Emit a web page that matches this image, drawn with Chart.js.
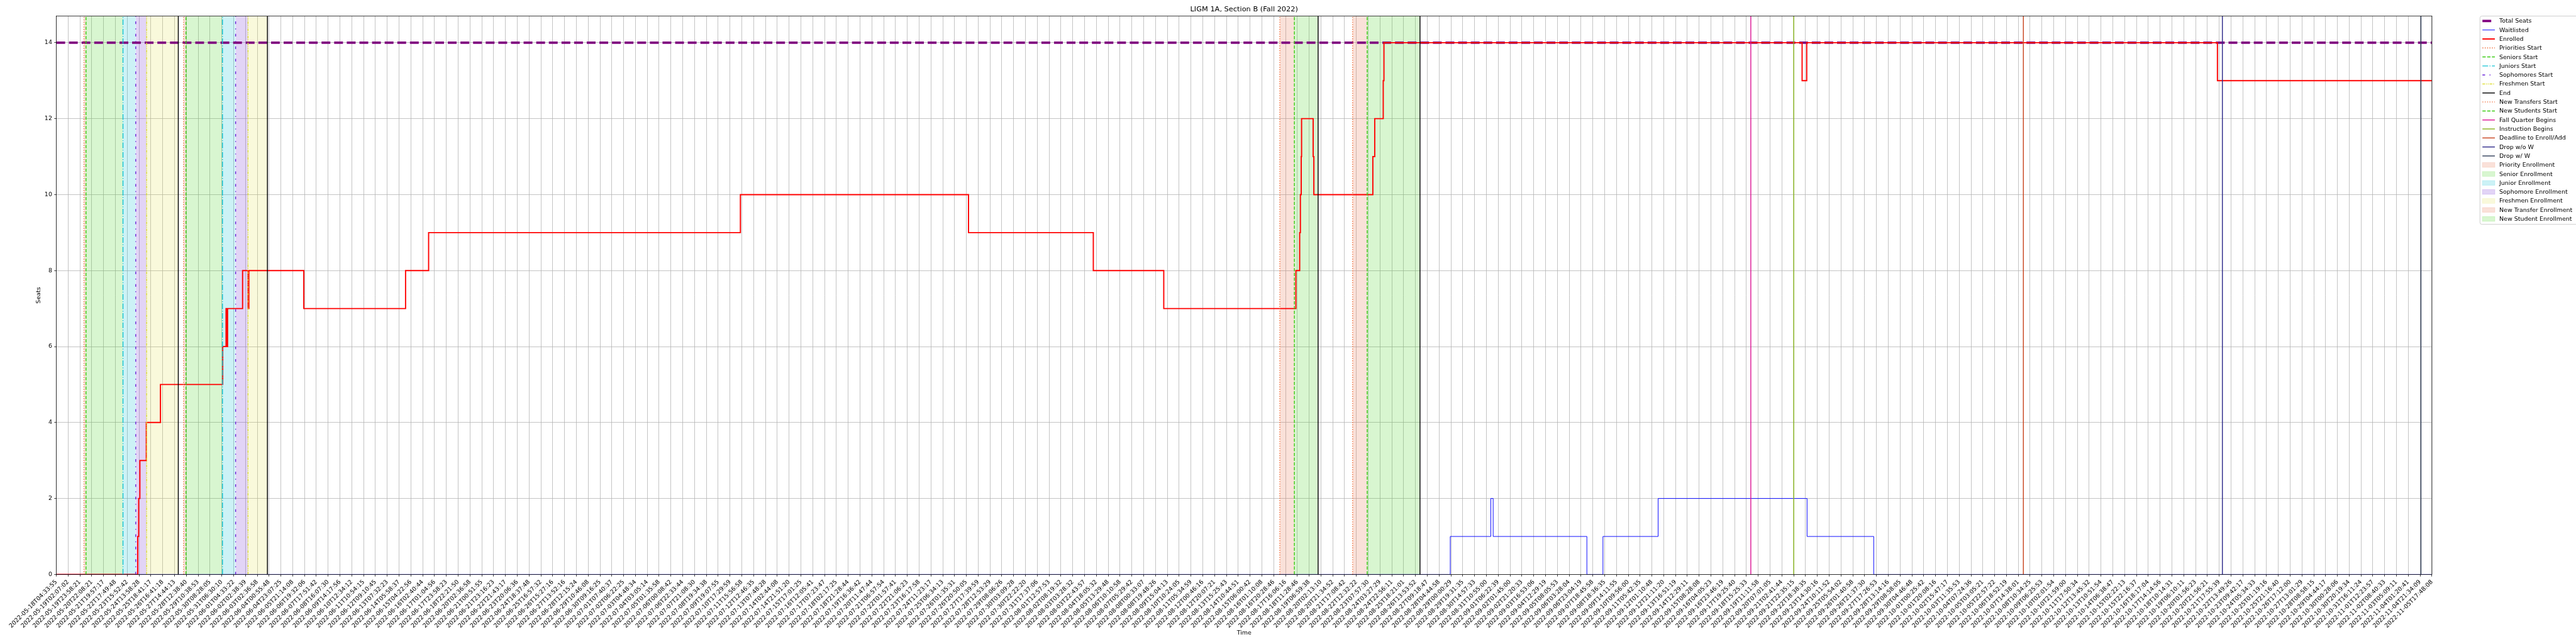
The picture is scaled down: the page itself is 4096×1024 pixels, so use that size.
<!DOCTYPE html>
<html><head><meta charset="utf-8">
<script src="https://cdn.jsdelivr.net/npm/chart.js@4.4.0/dist/chart.umd.min.js"></script>
<style>html,body{margin:0;padding:0;background:#fff;}canvas{display:block;}</style>
</head><body>
<canvas id="c" width="4096" height="1024"></canvas>
<script>
// ---------------- DATA ----------------
const chartTitle = 'LIGM 1A, Section B (Fall 2022)';
const tickLabels = [
'2022-05-18T04:33:55','2022-05-19T02:07:02','2022-05-19T23:58:21','2022-05-20T22:08:21','2022-05-21T19:57:17',
'2022-05-22T17:49:48','2022-05-23T15:52:42','2022-05-24T13:58:28','2022-05-25T18:41:17','2022-05-26T16:41:18',
'2022-05-27T14:44:13','2022-05-28T12:38:40','2022-05-29T10:38:53','2022-05-30T08:28:05','2022-05-31T06:30:10',
'2022-06-01T04:33:22','2022-06-02T02:38:39','2022-06-03T02:36:58','2022-06-04T00:55:48','2022-06-04T23:07:25',
'2022-06-05T21:14:08','2022-06-06T19:32:06','2022-06-07T17:51:42','2022-06-08T16:07:30','2022-06-09T14:17:56',
'2022-06-10T12:34:12','2022-06-11T10:54:15','2022-06-12T09:10:45','2022-06-13T07:32:23','2022-06-14T05:58:37',
'2022-06-15T04:22:56','2022-06-16T02:40:44','2022-06-17T01:04:56','2022-06-17T23:58:23','2022-06-18T22:21:50',
'2022-06-20T02:36:58','2022-06-21T00:51:55','2022-06-21T23:16:23','2022-06-22T21:43:17','2022-06-23T20:06:36',
'2022-06-24T18:37:48','2022-06-25T16:57:32','2022-06-26T15:27:16','2022-06-27T13:52:16','2022-06-28T12:15:24',
'2022-06-29T10:46:08','2022-06-30T09:16:25','2022-07-01T07:40:37','2022-07-02T06:22:25','2022-07-03T04:48:34',
'2022-07-04T03:05:14','2022-07-05T01:35:58','2022-07-06T00:08:42','2022-07-06T22:33:44','2022-07-07T21:08:30',
'2022-07-08T19:34:38','2022-07-09T19:07:55','2022-07-10T17:29:59','2022-07-11T15:56:58','2022-07-12T12:46:35',
'2022-07-13T07:48:28','2022-07-14T02:44:08','2022-07-14T21:51:20','2022-07-15T17:01:25','2022-07-16T12:05:41',
'2022-07-17T07:23:47','2022-07-18T02:17:25','2022-07-18T21:28:44','2022-07-19T16:36:42','2022-07-20T11:47:44',
'2022-07-21T06:57:54','2022-07-22T01:57:41','2022-07-22T21:06:23','2022-07-23T16:17:58','2022-07-24T11:23:17',
'2022-07-25T06:34:13','2022-07-26T01:35:31','2022-07-26T20:50:05','2022-07-27T17:39:59','2022-07-28T12:53:29',
'2022-07-29T08:06:26','2022-07-30T03:09:28','2022-07-30T22:22:20','2022-07-31T17:37:06','2022-08-01T12:57:53',
'2022-08-02T08:19:32','2022-08-03T03:28:32','2022-08-03T22:43:57','2022-08-04T18:05:32','2022-08-05T13:29:48',
'2022-08-06T10:10:58','2022-08-07T05:29:42','2022-08-08T00:33:07','2022-08-08T19:48:26','2022-08-09T15:04:13',
'2022-08-10T10:24:05','2022-08-11T05:34:59','2022-08-12T00:46:16','2022-08-12T20:07:21','2022-08-13T15:25:43',
'2022-08-14T10:44:51','2022-08-15T06:00:42','2022-08-16T01:10:08','2022-08-16T20:28:46','2022-08-17T16:06:16',
'2022-08-18T11:28:46','2022-08-19T06:59:38','2022-08-20T02:13:10','2022-08-20T21:34:52','2022-08-21T17:08:42',
'2022-08-22T12:32:22','2022-08-23T07:57:30','2022-08-24T03:27:29','2022-08-24T22:56:11','2022-08-25T18:21:01',
'2022-08-26T13:53:52','2022-08-27T09:18:47','2022-08-28T04:44:58','2022-08-29T00:00:29','2022-08-29T19:31:35',
'2022-08-30T14:57:33','2022-08-31T10:55:00','2022-09-01T06:22:39','2022-09-02T01:45:00','2022-09-02T21:20:33',
'2022-09-03T16:53:06','2022-09-04T12:29:19','2022-09-05T08:05:53','2022-09-06T03:28:04','2022-09-06T23:04:19',
'2022-09-07T18:45:58','2022-09-08T18:36:35','2022-09-09T14:11:55','2022-09-10T09:56:00','2022-09-11T05:42:35',
'2022-09-12T01:10:48','2022-09-12T21:11:20','2022-09-13T16:51:19','2022-09-14T12:29:11','2022-09-15T08:28:08',
'2022-09-16T04:05:23','2022-09-16T23:46:19','2022-09-17T19:25:40','2022-09-18T15:25:33','2022-09-19T11:11:58',
'2022-09-20T07:01:05','2022-09-21T02:41:44','2022-09-21T22:35:15','2022-09-22T18:38:35','2022-09-23T14:30:16',
'2022-09-24T10:11:52','2022-09-25T05:54:02','2022-09-26T01:40:58','2022-09-26T21:37:30','2022-09-27T17:26:53',
'2022-09-28T13:14:16','2022-09-29T08:58:05','2022-09-30T04:46:48','2022-10-01T00:25:42','2022-10-01T20:08:16',
'2022-10-02T15:47:17','2022-10-03T11:35:53','2022-10-04T07:24:36','2022-10-05T03:05:21','2022-10-05T22:57:22',
'2022-10-06T18:52:19','2022-10-07T14:38:01','2022-10-08T10:34:25','2022-10-09T06:25:53','2022-10-10T02:01:54',
'2022-10-10T21:59:00','2022-10-11T17:50:34','2022-10-12T13:45:32','2022-10-13T10:51:54','2022-10-14T06:38:47',
'2022-10-15T02:22:13','2022-10-15T22:16:37','2022-10-16T18:17:04','2022-10-17T14:14:56','2022-10-18T10:14:31',
'2022-10-19T06:10:11','2022-10-20T01:56:23','2022-10-20T21:56:21','2022-10-21T17:55:39','2022-10-22T13:49:26',
'2022-10-23T09:42:17','2022-10-24T05:34:33','2022-10-25T01:19:16','2022-10-25T21:16:40','2022-10-26T17:12:00',
'2022-10-27T13:01:29','2022-10-28T08:58:15','2022-10-29T04:44:17','2022-10-30T00:28:06','2022-10-30T20:19:34',
'2022-10-31T16:11:24','2022-11-01T12:23:57','2022-11-02T08:40:33','2022-11-03T05:09:11','2022-11-04T01:20:41',
'2022-11-04T21:34:09','2022-11-05T17:48:08'
];
const yTickValues = [0, 2, 4, 6, 8, 10, 12, 14];
const totalSeats = 14;

// step series: x in tick-index units (value holds from x onward)
const enrolledX = [0, 6.89, 6.97, 7.07, 7.61, 8.81, 14.08, 14.36, 14.43, 14.49, 15.76, 16.22, 16.29, 20.94, 29.55, 31.50, 57.88, 77.18, 87.74, 93.70,
  104.88, 105.20, 105.26, 105.33, 105.36, 106.34, 106.40, 111.39, 111.55, 112.27, 112.33, 147.71, 148.10, 182.85, 201];
const enrolledY = [0, 1, 2, 3, 4, 5, 6, 7, 6, 7, 8, 7, 8, 7, 8, 9, 10, 9, 8, 7,
  8, 9, 10, 11, 12, 11, 10, 11, 12, 13, 14, 13, 14, 13, 13];
const waitlistX = [0, 117.94, 121.37, 121.57, 129.50, 130.86, 135.53, 148.13, 153.77, 201];
const waitlistY = [0, 1, 2, 1, 0, 1, 2, 1, 0, 0];

// event markers (tick-index units)
const prioritiesStart   = [2.34, 10.77];
const seniorsStart      = [2.51, 10.97];
const juniorsStart      = [5.64, 14.06];
const sophomoresStart   = [6.72, 15.17];
const freshmenStart     = [7.64, 16.22];
const endMarks          = [10.32, 17.86, 106.76, 115.38];
const newTransfersStart = [103.52, 109.68];
const newStudentsStart  = [104.75, 110.91];
const fallQuarterBegins = [143.37];
const instructionBegins = [147.00];
const deadlineEnrollAdd = [166.43];
const dropWithoutW      = [183.27];
const dropWithW         = [200.07];

// ---------------- STYLE ----------------
const S = 0.682;                 // overall scale
const PT = 100 / 72 * S;          // px per point
const X_MIN = 0, X_MAX = tickLabels.length - 1, Y_MAX = 14.7;
const FONT = "'DejaVu Sans', 'Liberation Sans', sans-serif";
const LS = {
  total:   {color: '#800080', lw: 4,   dash: [3.7, 1.6]},
  wait:    {color: '#0000ff', lw: 1,   dash: []},
  enr:     {color: '#ff0000', lw: 2,   dash: []},
  prio:    {color: '#f06a35', lw: 1.5, dash: [1, 1.65]},
  senior:  {color: '#3ccc14', lw: 1.5, dash: [3.7, 1.6]},
  junior:  {color: '#12c3d3', lw: 1.5, dash: [6.4, 1.6, 1, 1.6]},
  soph:    {color: '#6a24d8', lw: 1.5, dash: [3, 5, 1, 5]},
  fresh:   {color: '#dede3a', lw: 1.5, dash: [3, 1, 1, 1, 1, 1]},
  end:     {color: '#000000', lw: 1.5, dash: []},
  ntrans:  {color: '#f06a35', lw: 1.5, dash: [1, 1.65]},
  nstud:   {color: '#3ccc14', lw: 1.5, dash: [3.7, 1.6]},
  fall:    {color: '#dc1496', lw: 1.5, dash: []},
  instr:   {color: '#88b41e', lw: 1.5, dash: []},
  dead:    {color: '#c8441e', lw: 1.5, dash: []},
  dropnw:  {color: '#2e2a8a', lw: 1.5, dash: []},
  dropw:   {color: '#2f3d58', lw: 1.5, dash: []}
};
const SPAN = {
  prio:   'rgba(232,120,80,0.22)',
  senior: 'rgba(60,210,20,0.20)',
  junior: 'rgba(0,190,210,0.20)',
  soph:   'rgba(110,40,210,0.20)',
  fresh:  'rgba(220,220,40,0.17)',
  ntrans: 'rgba(232,120,80,0.22)',
  nstud:  'rgba(60,210,20,0.20)'
};
const px = (st) => st.lw * PT;
const dashPx = (st) => st.dash.map(d => d * st.lw * PT);

// ---------------- DATASETS ----------------
const datasets = [];
function addSpans(starts, ends, color) {
  starts.forEach((a, i) => datasets.push({
    data: [{x: a, y: Y_MAX}, {x: ends[i], y: Y_MAX}], fill: 'origin',
    backgroundColor: color, borderWidth: 0, pointRadius: 0, order: 10
  }));
}
function addLines(xs, st) {
  xs.forEach(x => datasets.push({
    data: [{x: x, y: 0}, {x: x, y: Y_MAX}], fill: false,
    borderColor: st.color, borderWidth: px(st), borderDash: dashPx(st), pointRadius: 0, order: 1
  }));
}
addSpans(prioritiesStart, seniorsStart, SPAN.prio);
addSpans(seniorsStart, juniorsStart, SPAN.senior);
addSpans(juniorsStart, sophomoresStart, SPAN.junior);
addSpans(sophomoresStart, freshmenStart, SPAN.soph);
addSpans(freshmenStart, endMarks.slice(0, 2), SPAN.fresh);
addSpans(newTransfersStart, newStudentsStart, SPAN.ntrans);
addSpans(newStudentsStart, endMarks.slice(2), SPAN.nstud);

datasets.push({data: [{x: X_MIN, y: totalSeats}, {x: X_MAX, y: totalSeats}], borderColor: LS.total.color,
  borderWidth: px(LS.total), borderDash: dashPx(LS.total), pointRadius: 0, fill: false, order: 5});
datasets.push({data: waitlistX.map((x, i) => ({x, y: waitlistY[i]})), stepped: 'before', borderColor: LS.wait.color,
  borderWidth: px(LS.wait), pointRadius: 0, fill: false, order: 4, clip: 0});
datasets.push({data: enrolledX.map((x, i) => ({x, y: enrolledY[i]})), stepped: 'before', borderColor: LS.enr.color,
  borderWidth: px(LS.enr), pointRadius: 0, fill: false, order: 3, clip: 0});

addLines(prioritiesStart, LS.prio);
addLines(seniorsStart, LS.senior);
addLines(juniorsStart, LS.junior);
addLines(sophomoresStart, LS.soph);
addLines(freshmenStart, LS.fresh);
addLines(endMarks, LS.end);
addLines(newTransfersStart, LS.ntrans);
addLines(newStudentsStart, LS.nstud);
addLines(fallQuarterBegins, LS.fall);
addLines(instructionBegins, LS.instr);
addLines(deadlineEnrollAdd, LS.dead);
addLines(dropWithoutW, LS.dropnw);
addLines(dropWithW, LS.dropw);

const legendEntries = [
  ['Total Seats', 'line', LS.total], ['Waitlisted', 'line', LS.wait], ['Enrolled', 'line', LS.enr],
  ['Priorities Start', 'line', LS.prio], ['Seniors Start', 'line', LS.senior], ['Juniors Start', 'line', LS.junior],
  ['Sophomores Start', 'line', LS.soph], ['Freshmen Start', 'line', LS.fresh], ['End', 'line', LS.end],
  ['New Transfers Start', 'line', LS.ntrans], ['New Students Start', 'line', LS.nstud],
  ['Fall Quarter Begins', 'line', LS.fall], ['Instruction Begins', 'line', LS.instr],
  ['Deadline to Enroll/Add', 'line', LS.dead], ['Drop w/o W', 'line', LS.dropnw], ['Drop w/ W', 'line', LS.dropw],
  ['Priority Enrollment', 'patch', SPAN.prio], ['Senior Enrollment', 'patch', SPAN.senior],
  ['Junior Enrollment', 'patch', SPAN.junior], ['Sophomore Enrollment', 'patch', SPAN.soph],
  ['Freshmen Enrollment', 'patch', SPAN.fresh], ['New Transfer Enrollment', 'patch', SPAN.ntrans],
  ['New Student Enrollment', 'patch', SPAN.nstud]
];

// ---------------- LAYOUT ----------------
const AREA = {left: 131.3 * S, right: 5670 * S, top: 37.5 * S, bottom: 1339.3 * S};
const CW = 4096, CH = 1024;

const overlay = {
  id: 'overlay',
  afterDraw(chart) {
    const ctx = chart.ctx, ca = chart.chartArea;
    ctx.save();
    ctx.setLineDash([]);
    ctx.strokeStyle = '#000'; ctx.lineWidth = 0.8 * PT;
    ctx.strokeRect(ca.left, ca.top, ca.right - ca.left, ca.bottom - ca.top);
    ctx.fillStyle = '#000'; ctx.textAlign = 'center'; ctx.textBaseline = 'middle';
    const cx = (ca.left + ca.right) / 2;
    ctx.font = (12 * PT) + 'px ' + FONT;
    ctx.fillText(chartTitle, cx, 22 * S);
    ctx.font = (10 * PT) + 'px ' + FONT;
    ctx.fillText('Time', cx, 1476 * S);
    ctx.save(); ctx.translate(90 * S, (ca.top + ca.bottom) / 2); ctx.rotate(-Math.PI / 2);
    ctx.fillText('Seats', 0, 0); ctx.restore();

    // legend
    const lx = 5782 * S, ly = 37.5 * S, lb = 523 * S, rr = 3;
    ctx.beginPath();
    ctx.roundRect(lx, ly, CW + 20 - lx, lb - ly, rr);
    ctx.fillStyle = 'rgba(255,255,255,0.8)'; ctx.fill();
    ctx.strokeStyle = '#cccccc'; ctx.lineWidth = 1 * PT; ctx.stroke();
    const h0 = 5787.7 * S, h1 = 5816.7 * S, tx = 5827 * S, row0 = 48.9 * S, dy = 20.98 * S;
    ctx.font = (10 * PT) + 'px ' + FONT; ctx.textAlign = 'left'; ctx.textBaseline = 'middle';
    legendEntries.forEach(([label, kind, st], i) => {
      const y = row0 + i * dy;
      if (kind === 'line') {
        ctx.save();
        ctx.beginPath(); ctx.strokeStyle = st.color; ctx.lineWidth = px(st); ctx.lineCap = 'butt';
        ctx.setLineDash(dashPx(st)); ctx.moveTo(h0, y); ctx.lineTo(h1, y); ctx.stroke();
        ctx.restore();
      } else {
        const hh = 7.6;
        ctx.fillStyle = st; ctx.fillRect(h0, y - hh / 2, h1 - h0, hh);
        ctx.strokeStyle = st; ctx.lineWidth = 0.7; ctx.strokeRect(h0, y - hh / 2, h1 - h0, hh);
      }
      ctx.fillStyle = '#000';
      ctx.fillText(label, tx, y + 0.5);
    });
    ctx.restore();
  }
};

Chart.defaults.font.family = FONT;
Chart.defaults.font.size = 10 * PT;
Chart.defaults.color = '#000';

new Chart(document.getElementById('c'), {
  type: 'line',
  data: {datasets},
  options: {
    responsive: false, animation: false, devicePixelRatio: 1,
    layout: {padding: {left: 0, top: AREA.top, right: CW - AREA.right, bottom: 0}},
    plugins: {legend: {display: false}, title: {display: false}, tooltip: {enabled: false}},
    elements: {line: {tension: 0, borderCapStyle: 'butt', borderJoinStyle: 'miter'}},
    scales: {
      x: {
        type: 'linear', min: X_MIN, max: X_MAX,
        afterBuildTicks: s => { s.ticks = tickLabels.map((_, i) => ({value: i})); },
        afterFit: s => { s.height = CH - AREA.bottom; },
        ticks: {autoSkip: false, maxRotation: 45, minRotation: 45, padding: 3.5 * PT,
          callback: (v, i) => tickLabels[i]},
        grid: {color: '#b0b0b0', lineWidth: 0.8 * PT, tickColor: '#000', tickLength: 3.5 * PT, tickWidth: 0.8 * PT},
        border: {display: false}
      },
      y: {
        type: 'linear', min: 0, max: Y_MAX,
        afterBuildTicks: s => { s.ticks = yTickValues.map(v => ({value: v})); },
        afterFit: s => { s.width = AREA.left; },
        ticks: {padding: 3.5 * PT, callback: v => String(v)},
        grid: {color: '#b0b0b0', lineWidth: 0.8 * PT, tickColor: '#000', tickLength: 3.5 * PT, tickWidth: 0.8 * PT},
        border: {display: false}
      }
    }
  },
  plugins: [overlay]
});
</script>
</body></html>
